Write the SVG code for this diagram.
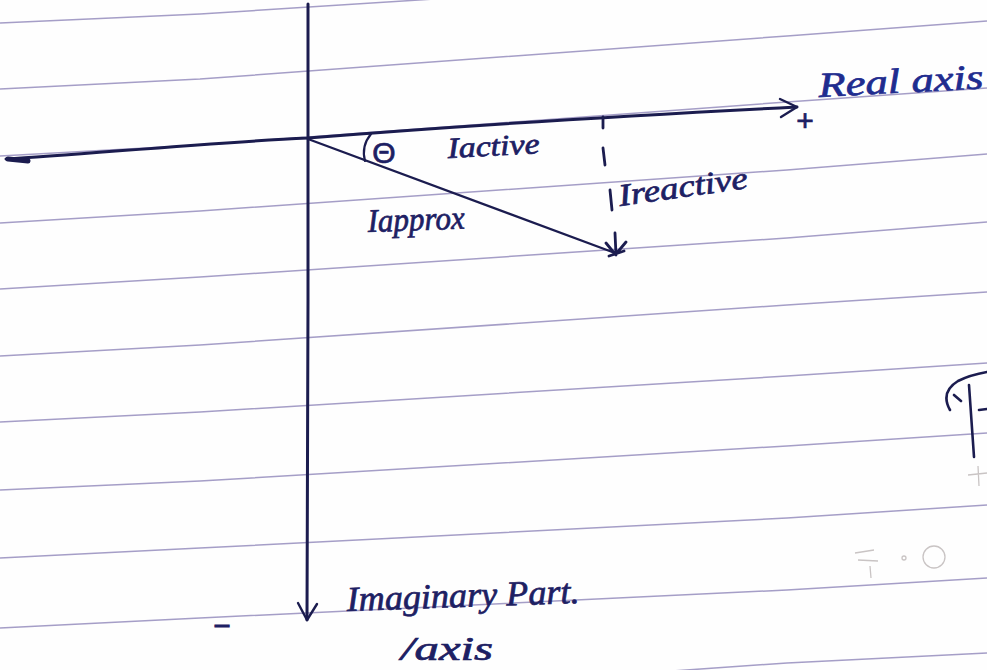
<svg xmlns="http://www.w3.org/2000/svg" width="987" height="670" viewBox="0 0 987 670">
<defs>
<style>
.rule{fill:none;stroke:#8f86b9;stroke-width:1.5;stroke-opacity:0.8}
.ink{fill:none;stroke:#1b1c4f;stroke-linecap:round;stroke-linejoin:round}
.axis{stroke-width:3}
.thin{stroke-width:2.4}
.lbl{font-family:"Liberation Serif","DejaVu Serif",serif;font-style:italic;fill:#1d2063;stroke:#1d2063;stroke-width:0.7}
.blue{fill:#1f2c8f;stroke:#1f2c8f}
.plain{font-style:normal;font-family:"Liberation Sans","DejaVu Sans",sans-serif}
.faint{fill:none;stroke:#c9c4c4;stroke-width:1.3}
</style>
</defs>
<rect width="987" height="670" fill="#fefefe"/>
<g id="paper">
<path class="rule" d="M0,23 L200,14 L450,-2"/>
<path class="rule" d="M0,89 L200,79 L787,36 L987,21"/>
<path class="rule" d="M0,156 L200,145 L787,102 L987,88"/>
<path class="rule" d="M0,223 L200,211 L787,170 L987,154"/>
<path class="rule" d="M0,289 L200,277 L787,238 L987,222"/>
<path class="rule" d="M0,356 L200,345 L787,305 L987,292"/>
<path class="rule" d="M0,422 L200,412 L787,376 L987,363"/>
<path class="rule" d="M0,490 L200,481 L787,446 L987,433"/>
<path class="rule" d="M0,558 L200,548 L787,518 L987,505"/>
<path class="rule" d="M0,628 L200,618 L787,590 L987,578"/>
<path class="rule" d="M500,683 L787,663 L987,653"/>
</g>
<g id="connectors">
<path class="ink axis" d="M6,159 C80,155 200,143 308,138 C420,129 600,117 797,107"/>
<path class="ink" stroke-width="5" d="M8,159 L28,161"/>
<path class="ink thin" d="M780,99 L797,107 L781,117"/>
<path class="ink axis" d="M308,4 L308,300 L307,620"/>
<path class="ink thin" d="M298,603 L307,620 L317,604"/>
<path class="ink thin" d="M308,139 L615,253"/>
<path class="ink" stroke-width="2.8" d="M615,233 L616,255 M606,243 L615,254 M626,242 L616,254 M609,256 L624,251"/>
<path class="ink" stroke-width="2.8" d="M603,117 L603,128 M603,148 L605,165 M610,190 L612,210"/>
<path class="ink" stroke-width="2.2" d="M371,134 Q361,146 365,161"/>
</g>
<g id="label-real-axis"><text class="lbl blue" x="819" y="97" font-size="35" textLength="165" lengthAdjust="spacingAndGlyphs" transform="rotate(-3 819 97)">Real axis</text></g>
<g id="label-plus"><text class="lbl plain" x="805" y="131" font-size="30" text-anchor="middle">+</text></g>
<g id="label-theta"><text class="lbl plain" x="384" y="163" font-size="30" text-anchor="middle" stroke-width="0.5">Θ</text></g>
<g id="label-iactive"><text class="lbl" x="448" y="158" font-size="29" textLength="92" lengthAdjust="spacingAndGlyphs" transform="rotate(-3 448 158)">Iactive</text></g>
<g id="label-ireactive"><text class="lbl" x="620" y="206" font-size="31" textLength="130" lengthAdjust="spacingAndGlyphs" transform="rotate(-8 620 206)">Ireactive</text></g>
<g id="label-iapprox"><text class="lbl" x="368" y="232" font-size="33" textLength="97" lengthAdjust="spacingAndGlyphs" transform="rotate(-2 368 232)">Iapprox</text></g>
<g id="label-imaginary"><text class="lbl" x="347" y="611" font-size="35" textLength="233" lengthAdjust="spacingAndGlyphs" transform="rotate(-2 347 611)">Imaginary Part.</text></g>
<g id="label-axis2"><text class="lbl" x="401" y="660" font-size="33" textLength="92" lengthAdjust="spacingAndGlyphs">/axis</text></g>
<g id="label-minus"><text class="lbl plain" x="222" y="636" font-size="30" text-anchor="middle">−</text></g>
<g id="edge-marks">
<path class="ink" stroke-width="2.6" d="M950,410 Q940,392 958,381 Q970,375 987,372"/>
<path class="ink" stroke-width="2.6" d="M954,395 L961,401 M969,385 L974,457 M979,410 L987,409"/>
<path class="faint" d="M855,553 L874,550 M858,560 L878,561 M870,566 L871,578 M968,475 L987,473 M978,466 L979,486"/>
<circle class="faint" cx="934" cy="557" r="11"/>
<circle class="faint" cx="904" cy="558" r="2"/>
</g>
</svg>
